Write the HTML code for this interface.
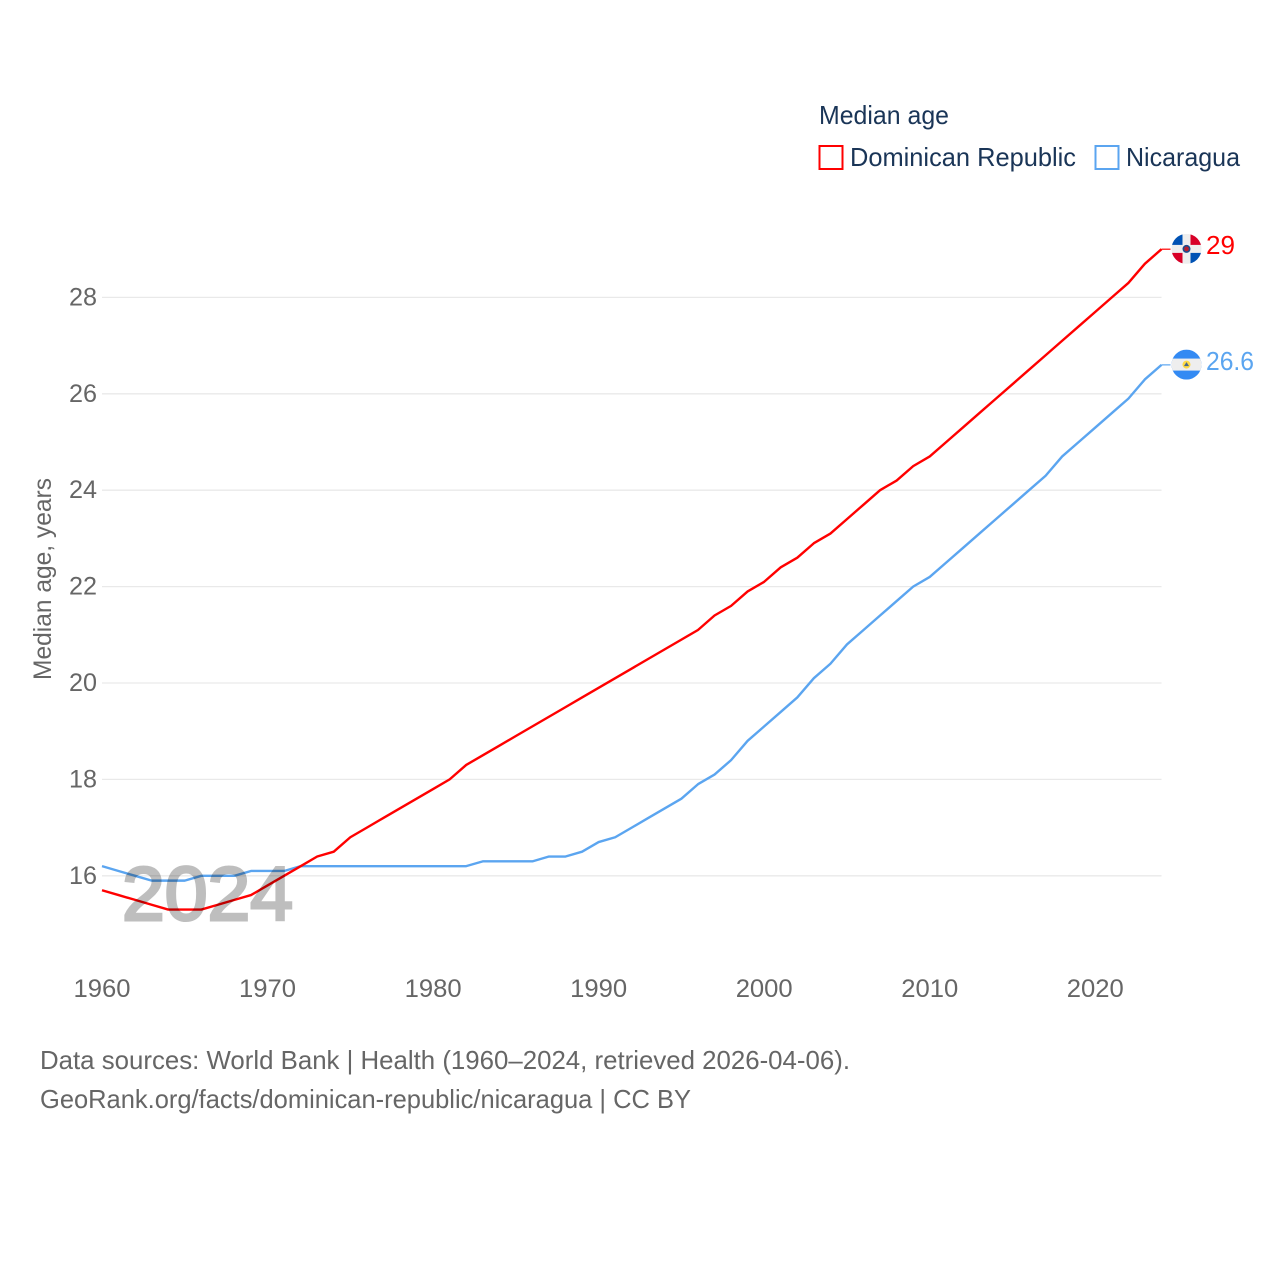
<!DOCTYPE html>
<html lang="en">
<head>
<meta charset="utf-8">
<title>Median age: Dominican Republic and Nicaragua</title>
<style>
html,body{margin:0;padding:0;background:#fff;width:1280px;height:1280px;overflow:hidden}
svg{display:block;font-family:"Liberation Sans",sans-serif}
</style>
</head>
<body>
<svg id="chart" width="1280" height="1280" viewBox="0 0 1280 1280" xmlns="http://www.w3.org/2000/svg">
  <defs>
    <clipPath id="flag-clip"><circle cx="0" cy="0" r="15"/></clipPath>
  </defs>
  <g id="grid"></g>
  <g id="yticks"></g>
  <g id="xticks"></g>
  <text transform="translate(51,680) rotate(-90)" font-size="25" fill="#666" textLength="202" lengthAdjust="spacingAndGlyphs">Median age, years</text>
  <g id="series"></g>
  <text x="122" y="920" font-size="76" fill="#000" stroke="#000" stroke-width="3" opacity="0.25" textLength="171" lengthAdjust="spacingAndGlyphs">2024</text>
  <g id="ends"></g>

  <g>
    <text x="819" y="124" font-size="26" fill="#1a3557" textLength="130" lengthAdjust="spacingAndGlyphs">Median age</text>
    <rect x="819.5" y="146" width="23" height="23" fill="none" stroke="#ff0000" stroke-width="2"/>
    <text x="850" y="166" font-size="26" fill="#1a3557" textLength="226" lengthAdjust="spacingAndGlyphs">Dominican Republic</text>
    <rect x="1095.5" y="146" width="23" height="23" fill="none" stroke="#5ba5f0" stroke-width="2"/>
    <text x="1126" y="166" font-size="26" fill="#1a3557" textLength="114" lengthAdjust="spacingAndGlyphs">Nicaragua</text>
  </g>

  <text x="40" y="1069" font-size="26" fill="#666" textLength="810" lengthAdjust="spacingAndGlyphs">Data sources: World Bank | Health (1960–2024, retrieved 2026-04-06).</text>
  <text x="40" y="1108" font-size="26" fill="#666" textLength="651" lengthAdjust="spacingAndGlyphs">GeoRank.org/facts/dominican-republic/nicaragua | CC BY</text>
</svg>
<script>
const years = [1960,1961,1962,1963,1964,1965,1966,1967,1968,1969,1970,1971,1972,1973,1974,1975,1976,1977,1978,1979,1980,1981,1982,1983,1984,1985,1986,1987,1988,1989,1990,1991,1992,1993,1994,1995,1996,1997,1998,1999,2000,2001,2002,2003,2004,2005,2006,2007,2008,2009,2010,2011,2012,2013,2014,2015,2016,2017,2018,2019,2020,2021,2022,2023,2024];
const dominicanValues = [15.7,15.6,15.5,15.4,15.3,15.3,15.3,15.4,15.5,15.6,15.8,16.0,16.2,16.4,16.5,16.8,17.0,17.2,17.4,17.6,17.8,18.0,18.3,18.5,18.7,18.9,19.1,19.3,19.5,19.7,19.9,20.1,20.3,20.5,20.7,20.9,21.1,21.4,21.6,21.9,22.1,22.4,22.6,22.9,23.1,23.4,23.7,24.0,24.2,24.5,24.7,25.0,25.3,25.6,25.9,26.2,26.5,26.8,27.1,27.4,27.7,28.0,28.3,28.7,29.0];
const nicaraguaValues = [16.2,16.1,16.0,15.9,15.9,15.9,16.0,16.0,16.0,16.1,16.1,16.1,16.2,16.2,16.2,16.2,16.2,16.2,16.2,16.2,16.2,16.2,16.2,16.3,16.3,16.3,16.3,16.4,16.4,16.5,16.7,16.8,17.0,17.2,17.4,17.6,17.9,18.1,18.4,18.8,19.1,19.4,19.7,20.1,20.4,20.8,21.1,21.4,21.7,22.0,22.2,22.5,22.8,23.1,23.4,23.7,24.0,24.3,24.7,25.0,25.3,25.6,25.9,26.3,26.6];
const yTickValues = [16,18,20,22,24,26,28];
const xTickValues = [1960,1970,1980,1990,2000,2010,2020];

const NS = 'http://www.w3.org/2000/svg';
const RED = '#ff0000';
const BLUE = '#5ba5f0';
function xScale(year){ return 102 + (year - 1960) * (1161.5 - 102) / 64; }
function yScale(v){ return 875.8 - (v - 16) * (875.8 - 297.4) / 12; }
function mk(tag, attrs, parent){
  const el = document.createElementNS(NS, tag);
  for (const k in attrs) el.setAttribute(k, attrs[k]);
  parent.appendChild(el);
  return el;
}
const gridG = document.getElementById('grid');
const yG = document.getElementById('yticks');
const xG = document.getElementById('xticks');
const seriesG = document.getElementById('series');
const endsG = document.getElementById('ends');

yTickValues.forEach(function(v){
  const line = mk('line', {x1:xScale(1960), x2:xScale(2024), y1:yScale(v), y2:yScale(v), stroke:'#e9e9e9', 'stroke-width':1.3}, gridG);
  
  
  const t = mk('text', {x:97, y:yScale(v) + 8, 'text-anchor':'end', 'font-size':25, fill:'#666', textLength:28, lengthAdjust:'spacingAndGlyphs'}, yG);
  
  
  t.textContent = v;
});
xTickValues.forEach(function(y){
  const t = mk('text', {x:xScale(y), y:997, 'text-anchor':'middle', 'font-size':25, fill:'#666', textLength:57, lengthAdjust:'spacingAndGlyphs'}, xG);
  
  
  t.textContent = y;
});

function pathFor(vals){
  return vals.map(function(v, i){
    return (i ? 'L' : 'M') + xScale(years[i]).toFixed(2) + ' ' + yScale(v).toFixed(2);
  }).join(' ');
}
const niLine = mk('path', {d:pathFor(nicaraguaValues), fill:'none', stroke:BLUE, 'stroke-width':2.4, 'stroke-linejoin':'round'}, seriesG);


const drLine = mk('path', {d:pathFor(dominicanValues), fill:'none', stroke:RED, 'stroke-width':2.4, 'stroke-linejoin':'round'}, seriesG);



function endMark(vals, color, label, width){
  const last = vals[vals.length - 1];
  const x0 = xScale(years[years.length - 1]);
  const y0 = yScale(last);
  const conn = mk('line', {x1:x0, x2:x0 + 9, y1:y0, y2:y0, stroke:color, 'stroke-width':1.2}, endsG);
  
  
  const t = mk('text', {x:1206, y:y0 + 5, 'font-size':26, fill:color, textLength:width, lengthAdjust:'spacingAndGlyphs'}, endsG);
  
  
  t.textContent = last;
  const flag = mk('g', {transform:'translate(1186.5,' + (y0 - 0.3) + ')', 'clip-path':'url(#flag-clip)'}, endsG);
  
  
  return flag;
}
function shape(parent, tag, attrs){ return mk(tag, attrs, parent); }

const drFlag = endMark(dominicanValues, RED, 'dominican-republic', 29);
shape(drFlag, 'rect', {x:-15, y:-15, width:30, height:30, fill:'#eeeeee'});
shape(drFlag, 'rect', {x:-15, y:-15, width:11, height:11, fill:'#0052b4'});
shape(drFlag, 'rect', {x:4, y:-15, width:11, height:11, fill:'#d80027'});
shape(drFlag, 'rect', {x:-15, y:4, width:11, height:11, fill:'#d80027'});
shape(drFlag, 'rect', {x:4, y:4, width:11, height:11, fill:'#0052b4'});
shape(drFlag, 'circle', {cx:0, cy:0, r:4, fill:'#1d4a8c'});
shape(drFlag, 'circle', {cx:0, cy:0, r:2.4, fill:'#b5202f'});

const niFlag = endMark(nicaraguaValues, BLUE, 'nicaragua', 48);
shape(niFlag, 'rect', {x:-15, y:-15, width:30, height:30, fill:'#338af3'});
shape(niFlag, 'rect', {x:-15, y:-6, width:30, height:12, fill:'#eeeeee'});
shape(niFlag, 'circle', {cx:0, cy:0, r:4, fill:'#ffda44'});
shape(niFlag, 'path', {d:'M-2.6 1.6 L0 -2.4 L2.6 1.6 Z', fill:'#4a6a8c'});
</script>
</body>
</html>
